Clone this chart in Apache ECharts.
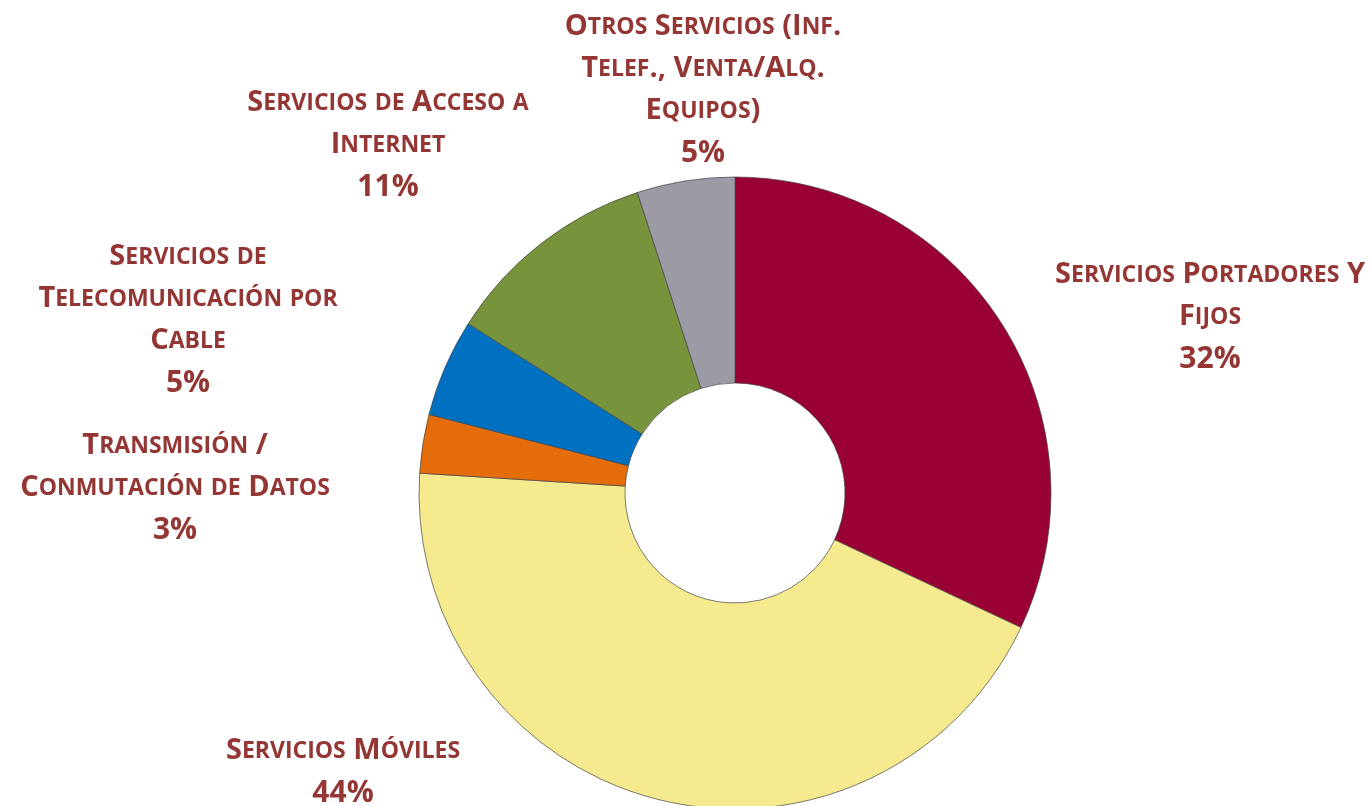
<!DOCTYPE html>
<html>
<head>
<meta charset="utf-8">
<script src="https://cdn.jsdelivr.net/npm/echarts@6/dist/echarts.min.js"></script>
<style>
html,body{margin:0;padding:0;background:#fff;}
#chart{width:1372px;height:806px;}
</style>
</head>
<body>
<div id="chart"></div>
<script>
// ---- data ----
const categories = [
  'Servicios Portadores Y\nFijos',
  'Servicios Móviles',
  'Transmisión /\nConmutación de Datos',
  'Servicios de\nTelecomunicación por\nCable',
  'Servicios de Acceso a\nInternet',
  'Otros Servicios (Inf.\nTelef., Venta/Alq.\nEquipos)'
];
const shares = [32, 44, 3, 5, 11, 5];
const colors = ['#990033', '#F5EA8E', '#E46C0A', '#0070C0', '#77933C', '#9C9AA5'];
// label block centres (px)
const labelPos = [[1210, 317], [343, 772], [175, 488], [188, 320], [388, 145], [703, 90]];

const FONT = '"Liberation Sans Narrow", "Open Sans", sans-serif';
const TXT = '#943634';

function smallCaps(line) {
  let out = '';
  let cur = '', curStyle = null;
  const flush = () => { if (cur) out += '{' + curStyle + '|' + cur + '}'; cur = ''; };
  for (const ch of line) {
    const isLower = ch !== ch.toUpperCase() && ch === ch.toLowerCase();
    const st = isLower ? 's' : 'b';
    if (st !== curStyle) { flush(); curStyle = st; }
    cur += isLower ? ch.toUpperCase() : ch;
  }
  flush();
  return out;
}

const chart = echarts.init(document.getElementById('chart'));
chart.setOption({
  backgroundColor: '#fff',
  animation: false,
  series: [{
    type: 'pie',
    center: [735, 493],
    radius: [110, 316],
    startAngle: 90,
    clockwise: true,
    avoidLabelOverlap: false,
    data: categories.map((c, i) => ({
      name: c, value: shares[i],
      itemStyle: { color: colors[i] }
    })),
    itemStyle: { borderColor: 'rgba(70,70,70,0.7)', borderWidth: 1 },
    labelLine: { show: false },
    label: {
      show: true,
      position: 'outside',
      formatter: p => p.name.split('\n').map(smallCaps).join('\n') + '\n{p|' + Math.round(p.percent) + '%}',
      rich: {
        b: { fontFamily: FONT, fontWeight: 'bold', fontSize: 29, color: TXT, lineHeight: 42, align: 'center' },
        s: { fontFamily: FONT, fontWeight: 'bold', fontSize: 23, color: TXT, lineHeight: 42, align: 'center' },
        p: { fontFamily: FONT, fontWeight: 'bold', fontSize: 30, color: TXT, lineHeight: 42, align: 'center' }
      }
    },
    labelLayout: params => {
      const a = labelPos[params.dataIndex];
      return { x: a[0], y: a[1], align: 'center', verticalAlign: 'middle' };
    },
    emphasis: { disabled: true }
  }]
});
</script>
</body>
</html>
